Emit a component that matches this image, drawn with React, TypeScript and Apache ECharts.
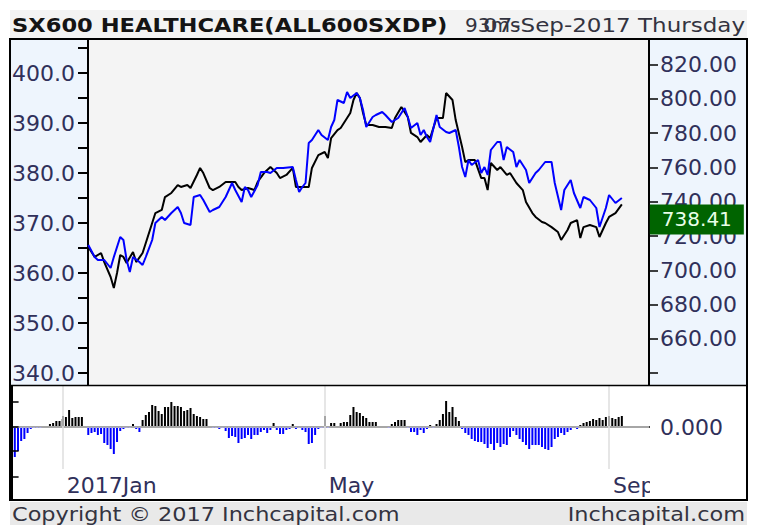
import React, { useEffect, useRef } from "react";
import * as echarts from "echarts";

// ---- data ----
// trading-day slots across the chart (index 0 = early Dec 2016)
const SLOT_COUNT = 200;
const xTickIdx = [16, 98, 187];
const xTickText = ["2017Jan", "May", "Sep"];

// STOXX 600 (blue, left axis)
const blueIdx = [24,26,27,29,31,32,34,35,36,37,38,40,41,42,44,45,47,48,50,52,53,54,56,57,59,60,62,63,65,66,67,69,70,72,73,74,75,77,78,80,81,83,85,88,89,90,91,92,93,94,96,97,99,100,101,102,104,105,106,108,109,110,111,113,114,116,117,119,121,123,124,125,127,128,129,130,131,133,134,136,137,139,140,141,142,143,144,146,147,148,149,150,152,153,154,155,157,158,159,161,162,164,165,167,169,170,172,173,175,176,178,179,181,183,184,186,187,189,191];
const blueVal = [365.6,363.2,362.6,362.6,361.0,363.2,367.2,366.6,362.6,360.2,363.2,362.2,361.6,363.2,366.6,370.0,371.2,370.6,372.0,373.2,372.0,370.0,369.6,375.2,375.6,374.6,372.2,372.6,373.2,374.2,375.2,378.0,376.6,374.2,377.2,376.6,375.2,377.6,380.2,380.2,380.0,381.0,381.0,381.2,378.6,376.2,377.2,378.0,386.0,386.6,388.6,387.6,386.6,389.2,390.6,394.6,394.0,396.2,395.0,396.0,395.0,392.6,389.2,391.2,391.6,392.2,391.6,390.2,391.0,393.0,391.2,389.0,390.0,387.6,388.6,387.2,386.2,391.6,389.2,388.2,388.0,388.6,385.2,381.2,379.2,382.6,381.6,382.6,380.0,381.2,379.6,384.6,386.2,386.2,382.6,385.2,384.2,381.2,382.6,380.6,378.0,380.0,380.6,382.2,382.2,378.0,372.6,376.6,378.6,376.0,373.0,375.2,374.6,373.0,369.2,373.0,375.6,374.0,375.0];

// SX600 Healthcare (black, right axis)
const blackIdx = [24,26,28,29,31,32,33,34,35,36,38,39,41,42,44,45,47,48,50,52,53,55,56,58,59,60,62,63,65,67,68,70,71,72,74,76,77,79,80,81,83,84,86,88,89,91,93,94,96,98,99,100,102,103,105,106,107,108,109,110,111,113,115,117,119,120,122,124,125,127,128,130,131,133,135,136,138,139,141,142,143,145,147,148,149,150,152,153,155,156,158,160,161,163,164,166,167,169,171,172,174,175,177,178,179,181,183,184,186,187,189,191];
const blackVal = [713.6,707.8,710.1,704.8,696.1,689.7,698.4,708.9,707.8,704.3,710.7,704.8,710.1,715.9,727.6,733.4,735.2,742.7,745.1,749.7,748.6,749.7,748.0,755.6,759.7,756.7,748.0,746.8,748.6,751.5,751.5,751.5,748.6,746.8,748.0,746.8,751.5,756.7,758.5,760.2,756.7,753.8,755.6,759.7,748.6,748.6,748.6,759.7,767.2,769.0,765.5,777.1,781.8,783.0,788.8,791.7,799.3,803.4,800.5,791.7,784.7,784.7,783.6,783.6,783.0,788.8,795.2,789.4,780.1,777.7,774.8,778.9,777.1,788.8,788.8,803.4,799.3,787.6,771.9,763.1,764.3,764.3,753.8,753.8,746.8,762.6,758.5,760.2,755.6,756.7,750.9,746.8,739.8,733.4,731.1,728.2,727.6,725.2,722.3,717.7,723.5,727.6,729.3,718.8,725.2,726.4,725.2,719.4,727.6,731.1,733.4,738.41];
const lastValue = 738.41;

// lower panel oscillator (one bar per slot from index 0)
const barVal = [
  -42,-30,-24,-14,-12,-6,-2,-1,-1,-1,
  1,1,3,4,6,6,8,10,17,9,
  10,10,10,1,-8,-6,-5,-8,-7,-16,
  -18,-22,-27,-15,-4,-2,-1,-1,3,-2,
  -5,7,12,15,22,21,16,13,20,20,
  25,21,21,20,16,17,19,13,11,10,
  8,8,1,-1,-1,-2,-1,-4,-11,-9,
  -10,-16,-12,-11,-8,-12,-8,-8,-5,-3,
  -6,-3,4,-3,-7,-7,-3,-2,3,-2,
  -1,-3,-5,-17,-16,-8,-2,-1,-1,-1,
  4,4,1,4,5,5,12,20,15,14,
  11,9,5,5,5,1,1,0,-1,3,
  5,7,7,7,-1,-5,-5,-8,-3,-6,
  -2,2,-1,3,7,13,26,15,20,10,
  6,-2,-6,-8,-12,-14,-15,-15,-17,-21,
  -17,-23,-16,-20,-17,-18,-10,-4,-8,-12,
  -15,-18,-22,-18,-18,-18,-20,-22,-23,-20,
  -12,-10,-6,-8,-5,-3,1,-2,2,4,
  5,6,8,7,9,7,10,9,9,8,
  10,11
];

const leftTickVals = [340,345,350,355,360,365,370,375,380,385,390,395,400,405];
const leftLabelVals = [340,350,360,370,380,390,400];
const rightTickVals = [640,660,680,700,720,740,760,780,800,820];
const rightLabelVals = [660,680,700,720,740,760,780,800,820];
const lowerTickVals = [25,0,-24,-50];
const lowerLabelVals = [0];

const titleText = "SX600 HEALTHCARE(ALL600SXDP)";
const stampText = "93ms";
const dateText = "07-Sep-2017 Thursday";
const footerLeft = "Copyright \u00A9 2017 Inchcapital.com";
const footerRight = "Inchcapital.com";

const FONT = "'DejaVu Sans', Verdana, sans-serif";
const LABEL_COLOR = "#30305a";

export default function App() {
  const ref = useRef<HTMLDivElement>(null);

  useEffect(() => {
    if (!ref.current) return;
    const chart = echarts.init(ref.current, undefined, { renderer: "svg" });

    const OUTER_L = 10;
    const PLOT_R = 649;
    const MAIN_L = 88;
    const slot = (PLOT_R - OUTER_L) / SLOT_COUNT;
    const mainMin = -0.5 + (MAIN_L - OUTER_L) / slot;

    const bluePairs = blueIdx.map((d, i) => [d, blueVal[i]]);
    const blackPairs = blackIdx.map((d, i) => [d, blackVal[i]]);
    const barData = barVal.map((v, i) => ({
      value: [i, v],
      itemStyle: { color: v >= 0 ? "#000000" : "#0000ff" },
    }));

    const option: any = {
      animation: false,
      textStyle: { fontFamily: FONT },
      grid: [
        { left: MAIN_L, right: 761 - PLOT_R, top: 39, height: 346, show: true, backgroundColor: "#f4f4f4", borderWidth: 0 },
        { left: OUTER_L, right: 761 - PLOT_R, top: 386, height: 83, show: false },
        { left: OUTER_L, right: 761 - PLOT_R, top: 386, height: 114, show: false },
      ],
      xAxis: [
        { gridIndex: 0, type: "value", min: mainMin, max: SLOT_COUNT - 0.5, show: false },
        {
          gridIndex: 1, type: "value", min: -0.5, max: SLOT_COUNT - 0.5, z: 1,
          axisLine: { show: true, lineStyle: { color: "#000", width: 2 } },
          axisTick: { show: true, customValues: xTickIdx, inside: true, length: 11, lineStyle: { color: "#000", width: 2 } },
          axisLabel: {
            show: true, customValues: xTickIdx, align: "left", margin: 5,
            padding: [0, 0, 0, 4],
            formatter: (v: number) => xTickText[xTickIdx.indexOf(Math.round(v))] ?? "",
            fontSize: 22, color: LABEL_COLOR, fontFamily: FONT,
          },
          splitLine: { show: false },
        },
        { gridIndex: 2, type: "value", min: -0.5, max: SLOT_COUNT - 0.5, show: false },
      ],
      yAxis: [
        {
          gridIndex: 0, position: "left", type: "value", min: 337.6, max: 406.8,
          axisLine: { show: true, lineStyle: { color: "#000", width: 2 } },
          axisTick: { show: true, customValues: leftTickVals, length: 10, lineStyle: { color: "#000", width: 2 } },
          axisLabel: { show: true, customValues: leftLabelVals, margin: 13, formatter: (v: number) => v.toFixed(1), fontSize: 22, color: LABEL_COLOR, fontFamily: FONT },
          splitLine: { show: false },
        },
        {
          gridIndex: 0, position: "right", type: "value", min: 633.1, max: 834.9,
          axisLine: { show: true, lineStyle: { color: "#000", width: 2 } },
          axisTick: { show: true, customValues: rightTickVals, length: 9, lineStyle: { color: "#000", width: 1.5 } },
          axisLabel: { show: true, customValues: rightLabelVals, margin: 11, formatter: (v: number) => v.toFixed(2), fontSize: 22, color: LABEL_COLOR, fontFamily: FONT },
          splitLine: { show: false },
        },
        { gridIndex: 1, type: "value", min: -42, max: 41, show: false },
        {
          gridIndex: 2, position: "right", type: "value", min: -73, max: 41, z: 10,
          axisLine: { show: true, lineStyle: { color: "#000", width: 2 } },
          axisTick: { show: true, customValues: lowerTickVals, length: 7, lineStyle: { color: "#000", width: 1.5 } },
          axisLabel: { show: true, customValues: lowerLabelVals, margin: 11, formatter: () => "0.000", fontSize: 22, color: LABEL_COLOR, fontFamily: FONT },
          splitLine: { show: false },
        },
      ],
      series: [
        {
          name: "SX600 Healthcare", type: "line", xAxisIndex: 0, yAxisIndex: 1,
          data: blackPairs, showSymbol: false, symbol: "none", z: 3,
          lineStyle: { color: "#000000", width: 2 },
          markPoint: {
            silent: true,
            symbol: "rect", symbolSize: [94, 30], symbolOffset: [75, 15],
            itemStyle: { color: "#006400" },
            label: { show: true, position: "inside", color: "#e8ffe8", fontSize: 20, fontFamily: FONT, formatter: () => lastValue.toFixed(2) },
            data: [{ coord: [blackIdx[blackIdx.length - 1], lastValue] }],
          },
        },
        {
          name: "STOXX 600", type: "line", xAxisIndex: 0, yAxisIndex: 0,
          data: bluePairs, showSymbol: false, symbol: "none", z: 4,
          lineStyle: { color: "#0000ff", width: 2 },
        },
        {
          name: "Oscillator", type: "bar", xAxisIndex: 1, yAxisIndex: 2,
          data: barData, barWidth: 2, z: 3,
          markLine: {
            silent: true, symbol: "none", label: { show: false },
            lineStyle: { color: "#dedede", width: 1.5, type: "solid" },
            data: [...xTickIdx.map((d) => ({ xAxis: d })), { yAxis: 0 }],
          },
        },
      ],
      graphic: [
        { type: "rect", z: -10, shape: { x: 10, y: 10, width: 737, height: 28 }, style: { fill: "#f3f3f3" } },
        { type: "rect", z: -10, shape: { x: 10, y: 39, width: 78, height: 346 }, style: { fill: "#eef5fd" } },
        { type: "rect", z: -10, shape: { x: 649, y: 39, width: 98, height: 347 }, style: { fill: "#eef5fd" } },
        { type: "rect", z: -10, shape: { x: 10, y: 502, width: 737, height: 23 }, style: { fill: "#e9e9e9" } },
        // clip of the x-axis label band at the right axis
        { type: "rect", z: 5, shape: { x: 650, y: 471, width: 96, height: 28 }, style: { fill: "#ffffff" } },
        { type: "line", z: 50, shape: { x1: 10, y1: 385.5, x2: 747, y2: 385.5 }, style: { stroke: "#000", lineWidth: 1.5 } },
        { type: "rect", z: 50, shape: { x: 10, y: 39, width: 737, height: 461 }, style: { fill: "none", stroke: "#000", lineWidth: 2 } },
        { type: "text", z: 50, x: 12, y: 25, scaleX: 1.13, style: { text: titleText, font: `bold 20px ${FONT}`, fill: "#141414", textAlign: "left", textVerticalAlign: "middle" } },
        { type: "text", z: 50, x: 465, y: 25, scaleX: 1.0, style: { text: stampText, font: `20px ${FONT}`, fill: "#333340", textAlign: "left", textVerticalAlign: "middle" } },
        { type: "text", z: 50, x: 745, y: 25, scaleX: 1.15, style: { text: dateText, font: `20px ${FONT}`, fill: "#333340", textAlign: "right", textVerticalAlign: "middle" } },
        { type: "text", z: 50, x: 12, y: 514, scaleX: 1.12, style: { text: footerLeft, font: `20px ${FONT}`, fill: "#333340", textAlign: "left", textVerticalAlign: "middle" } },
        { type: "text", z: 50, x: 745, y: 514, scaleX: 1.12, style: { text: footerRight, font: `20px ${FONT}`, fill: "#333340", textAlign: "right", textVerticalAlign: "middle" } },
      ],
    };

    chart.setOption(option);
    return () => chart.dispose();
  }, []);

  return (
    <div
      ref={ref}
      style={{ position: "fixed", left: 0, top: 0, width: 761, height: 525, background: "#ffffff" }}
    />
  );
}
